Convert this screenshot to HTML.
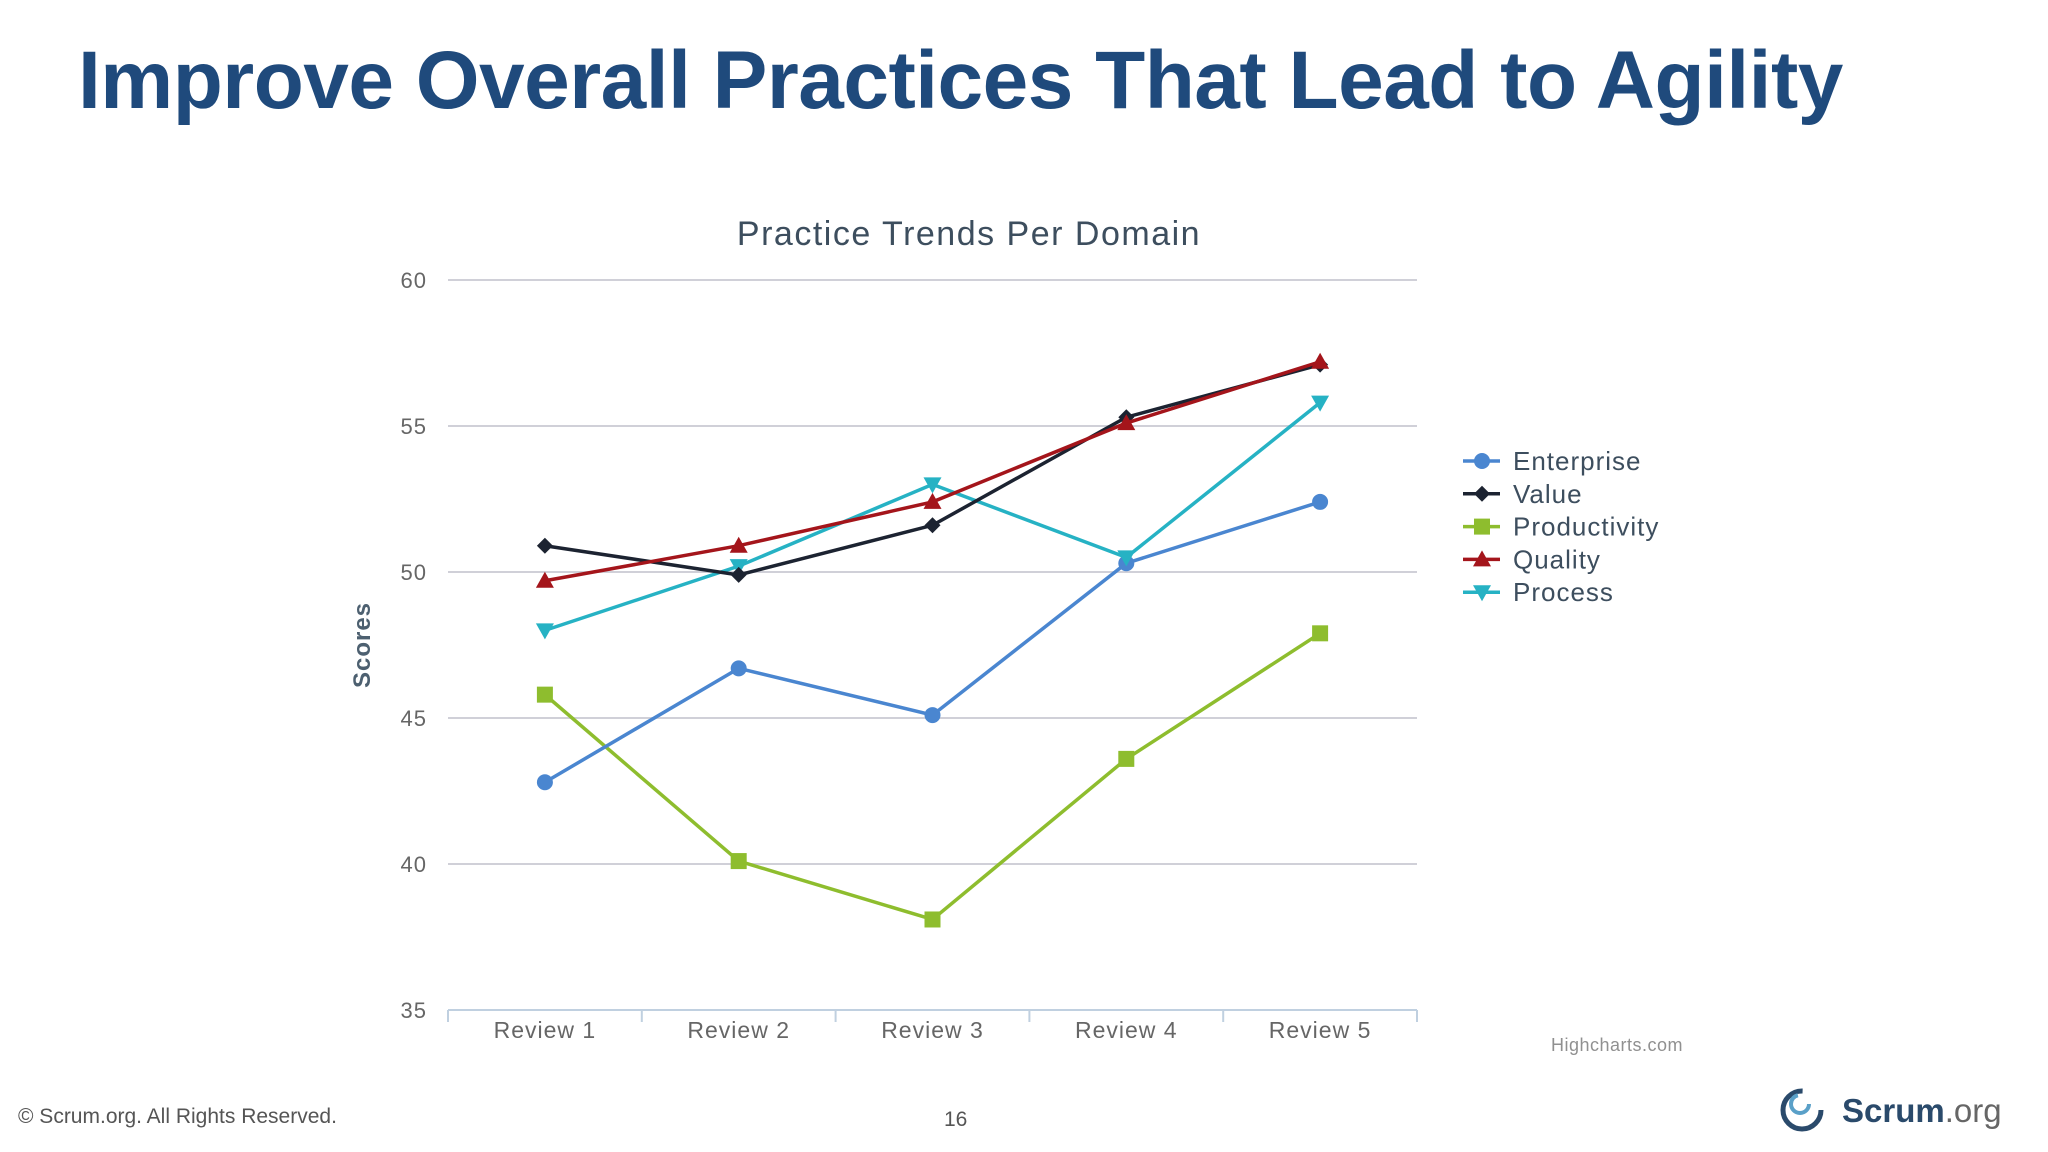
<!DOCTYPE html>
<html><head><meta charset="utf-8">
<style>
html,body{margin:0;padding:0;background:#fff;}
body{width:2048px;height:1152px;overflow:hidden;position:relative;font-family:"Liberation Sans","DejaVu Sans",sans-serif;}
#title{position:absolute;left:78px;top:34px;font-size:82px;font-weight:bold;color:#1f4a7c;white-space:nowrap;letter-spacing:-0.5px;}
#foot{position:absolute;left:18px;top:1105px;font-size:21px;color:#555;}
#page{position:absolute;left:944px;top:1108px;font-size:21px;color:#555;}
#logo{position:absolute;left:1776px;top:1078px;}
</style></head><body>
<div id="title">Improve Overall Practices That Lead to Agility</div>
<svg id="chart" width="2048" height="1152" style="position:absolute;left:0;top:0">
</svg>
<div id="foot">© Scrum.org. All Rights Reserved.</div>
<div id="page">16</div>
<svg id="logo" width="240" height="60">
<circle cx="26" cy="32" r="19" fill="none" stroke="#2a4a6b" stroke-width="5" stroke-dasharray="90 40"/>
<circle cx="24" cy="26" r="9" fill="none" stroke="#5aa0c8" stroke-width="4" stroke-dasharray="40 20"/>
<text x="66" y="44" font-size="33" font-family="Liberation Sans, sans-serif" fill="#2a4a6b" font-weight="bold">Scrum<tspan font-weight="normal" fill="#666">.org</tspan></text>
</svg>
<script>
const categories=["Review 1","Review 2","Review 3","Review 4","Review 5"];
const enterprise=[42.8,46.7,45.1,50.3,52.4];
const value=[50.9,49.9,51.6,55.3,57.1];
const productivity=[45.8,40.1,38.1,43.6,47.9];
const quality=[49.7,50.9,52.4,55.1,57.2];
const process=[48.0,50.2,53.0,50.5,55.8];
const yTicks=[35,40,45,50,55,60];
const seriesNames=["Enterprise","Value","Productivity","Quality","Process"];

const NS="http://www.w3.org/2000/svg";
const svg=document.getElementById('chart');
const X0=448,X1=1417,Y0=1010,Y1=280,YMIN=35,YMAX=60;
const xs=i=>X0+(X1-X0)/categories.length*(i+0.5);
const ys=v=>Y0-(v-YMIN)/(YMAX-YMIN)*(Y0-Y1);
function mk(tag,attrs,parent){const e=document.createElementNS(NS,tag);for(const k in attrs)e.setAttribute(k,attrs[k]);(parent||svg).appendChild(e);return e;}
const F="Liberation Sans, DejaVu Sans, sans-serif";
let t=mk('text',{x:969,y:245,'text-anchor':'middle','font-size':34,'font-family':F,fill:'#3d4e5e','letter-spacing':1.5});t.textContent="Practice Trends Per Domain";


yTicks.forEach(v=>{
  const l=mk('line',{x1:X0,x2:X1,y1:ys(v),y2:ys(v),stroke:'#d0d0d8','stroke-width':2});
  
  
  const tx=mk('text',{x:427,y:ys(v)+8,'text-anchor':'end','font-size':22,'font-family':F,fill:'#666','letter-spacing':1});tx.textContent=v;
  
  
});
const ax=mk('line',{x1:X0,x2:X1,y1:Y0,y2:Y0,stroke:'#c0d0e0','stroke-width':2});


for(let i=0;i<=categories.length;i++){const tk=mk('line',{x1:X0+(X1-X0)/categories.length*i,x2:X0+(X1-X0)/categories.length*i,y1:Y0,y2:Y0+12,stroke:'#c0d0e0','stroke-width':2});}
categories.forEach((c,i)=>{const tx=mk('text',{x:xs(i),y:1038,'text-anchor':'middle','font-size':23,'font-family':F,fill:'#666','letter-spacing':1});tx.textContent=c;
  
  });
const yt=mk('text',{x:0,y:0,transform:'translate(370,645) rotate(-90)','text-anchor':'middle','font-size':24,'font-family':F,fill:'#4d6070','font-weight':'bold','letter-spacing':1});yt.textContent="Scores";


const hc=mk('text',{x:1617,y:1051,'text-anchor':'middle','font-size':18,'font-family':F,fill:'#909090','letter-spacing':0.5});hc.textContent="Highcharts.com";



const colors=['#4a86d0','#1c2331','#8ebd2e','#a4151b','#26b2c4'];
const shapes=['circle','diamond','square','tri','tridown'];
function marker(shape,x,y,c,g){
  if(shape==='circle')return mk('circle',{cx:x,cy:y,r:8,fill:c},g);
  if(shape==='square')return mk('rect',{x:x-8,y:y-8,width:16,height:16,fill:c},g);
  if(shape==='diamond')return mk('polygon',{points:`${x},${y-8} ${x+8},${y} ${x},${y+8} ${x-8},${y}`,fill:c},g);
  if(shape==='tri')return mk('polygon',{points:`${x},${y-9} ${x+9},${y+7} ${x-9},${y+7}`,fill:c},g);
  return mk('polygon',{points:`${x},${y+9} ${x+9},${y-7} ${x-9},${y-7}`,fill:c},g);
}
const all=[enterprise,value,productivity,quality,process];
[2,0,4,1,3].forEach(s=>{
  const g=mk('g',{});
  
  
  const pts=all[s].map((v,i)=>xs(i)+','+ys(v)).join(' ');
  mk('polyline',{points:pts,fill:'none',stroke:colors[s],'stroke-width':3.5},g);
  all[s].forEach((v,i)=>{const m=marker(shapes[s],xs(i),ys(v),colors[s],g);
    
    });
});
seriesNames.forEach((n,s)=>{
  const y=461+s*32.8;
  const g=mk('g',{});
  
  
  mk('line',{x1:1463,x2:1500,y1:y,y2:y,stroke:colors[s],'stroke-width':3.5},g);
  marker(shapes[s],1482,y,colors[s],g);
  const tx=mk('text',{x:1513,y:y+9,'font-size':26,'font-family':F,fill:'#3d4e5e','letter-spacing':1},g);tx.textContent=n;
});
</script>
</body></html>
